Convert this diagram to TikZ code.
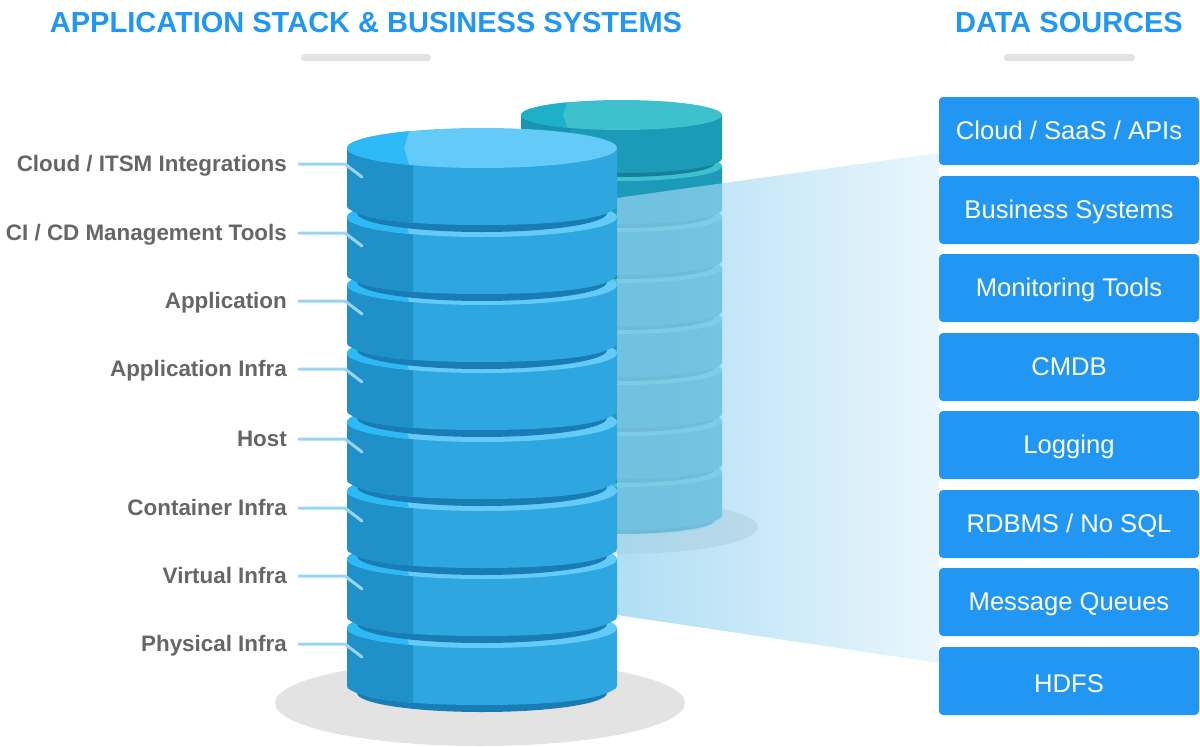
\documentclass[tikz,border=0pt]{standalone}
\usepackage{fontspec}
\setmainfont{Liberation Sans}
\usetikzlibrary{fadings}
\definecolor{titleblue}{HTML}{2196F3}
\definecolor{labelgray}{HTML}{666666}
\definecolor{shadowgray}{HTML}{E3E3E3}
\definecolor{leaderblue}{HTML}{98D5F0}
\definecolor{panelblue}{HTML}{93D2F0}
\definecolor{frontbody}{HTML}{2EA6DF}
\definecolor{frontside}{HTML}{2090C9}
\definecolor{frontneck}{HTML}{197CB5}
\definecolor{fronttop}{HTML}{64CBF9}
\definecolor{fronttopside}{HTML}{2DB9F5}
\definecolor{backbody}{HTML}{1B9BB8}
\definecolor{backside}{HTML}{1794AF}
\definecolor{backneck}{HTML}{167F9C}
\definecolor{backtop}{HTML}{3EC1CC}
\definecolor{backtopside}{HTML}{1EB0C8}
\tikzfading[name=fade panel, left color=transparent!27, right color=transparent!80]
\tikzfading[name=fade veil, left color=transparent!100, right color=transparent!54]
\tikzset{
  headline/.style={inner sep=0pt, text=titleblue, font=\fontsize{29}{32}\selectfont\bfseries},
  headbar/.style={fill=shadowgray, rounded corners=3pt},
  stacklabel/.style={anchor=east, inner sep=0pt, text=labelgray, text height=15pt, text depth=0pt, font=\fontsize{22.4}{26}\selectfont\bfseries},
  srcbox/.style={fill=titleblue, rounded corners=4pt, minimum width=260pt, minimum height=68pt, inner sep=0pt, text=white, text height=16pt, text depth=0pt, font=\fontsize{25.6}{30}\selectfont},
  leader/.style={draw=leaderblue, line width=3pt, line cap=round, line join=round}
}
\newcommand\frontshape{(347,0) -- (347,57) .. controls (347,60) and (348,61) .. (351,62) .. controls (368,73) and (420,77) .. (482,77) .. controls (544,77) and (596,73) .. (613,62) .. controls (616,61) and (617,60) .. (617,57) -- (617,0) -- cycle}
\newcommand\backshape{(521,0) -- (521,43) .. controls (521,45) and (522,46) .. (524,47) .. controls (537,54) and (577,58) .. (621.5,58) .. controls (666,58) and (706,54) .. (719,47) .. controls (721,46) and (722,45) .. (722,43) -- (722,0) -- cycle}
% one disc of the front stack, #1 is the y of its top ellipse
\newcommand\frontlayer[1]{
\begin{scope}[shift={(0,#1)}]
\fill[frontneck] (357,58) -- (357,65) arc[start angle=180,end angle=0,x radius=125,y radius=19] -- (607,58) -- cycle;
\fill[frontbody] \frontshape;
\begin{scope}
\clip (340,-30) rectangle (413,90);
\fill[frontside] \frontshape;
\end{scope}
\fill[fronttop] (482,0) ellipse[x radius=135,y radius=20];
\begin{scope}
\clip (340,-30) -- (413,-30) -- (404,0) -- (413,30) -- (340,30) -- cycle;
\fill[fronttopside] (482,0) ellipse[x radius=135,y radius=20];
\end{scope}
\end{scope}
}
% one disc of the back stack
\newcommand\backlayer[1]{
\begin{scope}[shift={(0,#1)}]
\fill[backneck] (528,44) -- (528,48) arc[start angle=180,end angle=0,x radius=93.5,y radius=14] -- (715,44) -- cycle;
\fill[backbody] \backshape;
\begin{scope}
\clip (515,-30) rectangle (570,70);
\fill[backside] \backshape;
\end{scope}
\fill[backtop] (621.5,0) ellipse[x radius=100.5,y radius=15];
\begin{scope}
\clip (515,-20) -- (570,-20) -- (563,0) -- (570,20) -- (515,20) -- cycle;
\fill[backtopside] (621.5,0) ellipse[x radius=100.5,y radius=15];
\end{scope}
\end{scope}
}
\begin{document}
\begin{tikzpicture}[x=1pt,y=-1pt]
\useasboundingbox (0,0) rectangle (1200,747);
\node[headline] (title0) at (366,23){APPLICATION STACK \& BUSINESS SYSTEMS};
\node[headline] (title1) at (1069,23){DATA SOURCES};
\fill[headbar] (301,54) rectangle (431,61);
\fill[headbar] (1004,54) rectangle (1135,61);
% shadows
\fill[shadowgray] (621,527) ellipse[x radius=137,y radius=27];
\fill[shadowgray] (480,703) ellipse[x radius=205,y radius=43];
% back stack
\backlayer{472}
\backlayer{421}
\backlayer{370}
\backlayer{319}
\backlayer{268}
\backlayer{217}
\backlayer{166}
\backlayer{115}
% light panel
\fill[panelblue, path fading=fade panel] (617,198) -- (939,153) -- (939,663) -- (617,615) -- cycle;
% evens out the panel over the back stack
\begin{scope}
\clip (617,198) -- (722,183.5) -- (722,515) arc[start angle=0,end angle=90,x radius=100.5,y radius=22] -- (617,537) -- cycle;
\fill[panelblue, path fading=fade veil] (617,180) rectangle (722,540);
\end{scope}
% front stack
\frontlayer{628}
\frontlayer{559}
\frontlayer{491}
\frontlayer{422}
\frontlayer{353}
\frontlayer{285}
\frontlayer{217}
\frontlayer{148}
% labels
\node[stacklabel] (lab0) at (287,164){Cloud / ITSM Integrations};
\node[stacklabel] (lab1) at (287,233){CI / CD Management Tools};
\node[stacklabel] (lab2) at (287,301){Application};
\node[stacklabel] (lab3) at (287,369){Application Infra};
\node[stacklabel] (lab4) at (287,439){Host};
\node[stacklabel] (lab5) at (287,508){Container Infra};
\node[stacklabel] (lab6) at (287,576){Virtual Infra};
\node[stacklabel] (lab7) at (287,644){Physical Infra};
\coordinate (end0) at (362,177);
\coordinate (end1) at (362,246);
\coordinate (end2) at (362,314);
\coordinate (end3) at (362,382);
\coordinate (end4) at (362,452);
\coordinate (end5) at (362,521);
\coordinate (end6) at (362,589);
\coordinate (end7) at (362,657);
\draw[leader] ([xshift=12pt]lab0.east) -- ++(46,0) -- (end0);
\draw[leader] ([xshift=12pt]lab1.east) -- ++(46,0) -- (end1);
\draw[leader] ([xshift=12pt]lab2.east) -- ++(46,0) -- (end2);
\draw[leader] ([xshift=12pt]lab3.east) -- ++(46,0) -- (end3);
\draw[leader] ([xshift=12pt]lab4.east) -- ++(46,0) -- (end4);
\draw[leader] ([xshift=12pt]lab5.east) -- ++(46,0) -- (end5);
\draw[leader] ([xshift=12pt]lab6.east) -- ++(46,0) -- (end6);
\draw[leader] ([xshift=12pt]lab7.east) -- ++(46,0) -- (end7);
% sources
\node[srcbox] (src0) at (1069,131){Cloud / SaaS / APIs};
\node[srcbox] (src1) at (1069,210){Business Systems};
\node[srcbox] (src2) at (1069,288){Monitoring Tools};
\node[srcbox] (src3) at (1069,367){CMDB};
\node[srcbox] (src4) at (1069,445){Logging};
\node[srcbox] (src5) at (1069,524){RDBMS / No SQL};
\node[srcbox] (src6) at (1069,602){Message Queues};
\node[srcbox, text height=23pt] (src7) at (1069,681){HDFS};
\end{tikzpicture}
\end{document}
